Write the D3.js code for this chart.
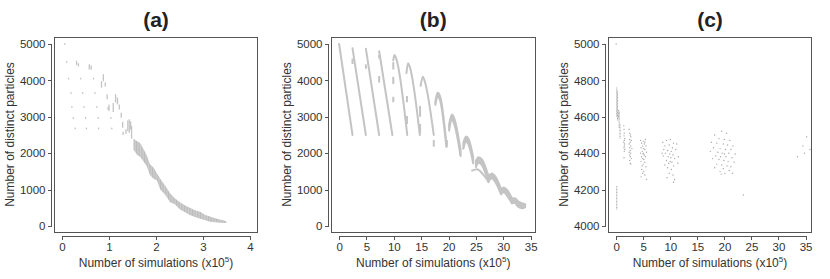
<!DOCTYPE html>
<meta charset="utf-8">
<style>
body { margin: 0; background: #fff; }
svg { display: block; font-family: "Liberation Sans", Arial, Helvetica, sans-serif; }
.axis text { font-size: 11.5px; fill: #333; }
.axis line, .axis .rline { stroke: #555; shape-rendering: crispEdges; }
.frame { fill: none; stroke: #555; shape-rendering: crispEdges; }
.title { font-size: 21px; font-weight: bold; fill: #222; text-anchor: middle; }
.label { font-size: 12px; fill: #333; text-anchor: middle; }
</style>
<svg width="830" height="279"></svg>
<script src="https://cdn.jsdelivr.net/npm/d3@7"></script>
<script>

var titles = ["(a)", "(b)", "(c)"];
var xTicksA = [0, 1, 2, 3, 4],
    xTicksBC = [0, 5, 10, 15, 20, 25, 30, 35],
    yTicksAB = [0, 1000, 2000, 3000, 4000, 5000],
    yTicksC = [4000, 4200, 4400, 4600, 4800, 5000];

// (a) isolated points [x, y]
var aDots = [[0.06,5000],[0.10,4510],[0.14,4050],[0.40,4050],[0.67,4050],
  [0.19,3650],[0.44,3650],[0.70,3650],[0.21,3270],[0.47,3270],[0.74,3270],
  [0.24,2970],[0.50,2970],[0.77,2970],[1.04,2970],[0.28,2680],[0.52,2680],
  [0.78,2680],[1.06,2680]];
// (a) short vertical runs [x, low, high]
var aDashes = [[0.31,4420,4540],[0.35,4380,4470],[0.58,4300,4440],[0.62,4290,4410],
  [0.84,3800,3980],[0.88,3980,4170],[0.92,3830,3940],[0.96,3480,3620],
  [0.98,3190,3270],[1.00,3160,3340],[1.09,3130,3380],[1.14,3390,3620],
  [1.18,3340,3530],[1.22,3200,3340],[1.26,2975,3110],[1.29,2700,2860],
  [1.30,2500,2590],[1.36,2530,2660],[1.40,2600,2900],[1.43,2560,2930],
  [1.46,2650,2880],[1.48,2400,2750]];
// (a) dense band [x, low, high]
var aBand = [[1.52,2100,2400],[1.60,1950,2330],[1.66,1900,2280],[1.72,1800,2150],
  [1.80,1650,1950],[1.87,1400,1700],[1.95,1300,1600],[2.02,1250,1450],
  [2.09,1000,1300],[2.20,850,1100],[2.30,650,900],[2.40,600,760],
  [2.51,450,650],[2.62,380,560],[2.72,300,500],[2.83,250,430],
  [2.94,200,390],[3.05,160,300],[3.15,120,260],[3.26,100,210],
  [3.36,90,180],[3.45,80,150],[3.50,80,120]];

// (b) trajectories [x, low, high]
var bSegs = [
  [[0,5000,5000],[2.45,2500,2500]],
  [[2.45,4880,4880],[4.89,2500,2500]],
  [[4.89,4870,4870],[7.32,2500,2500]],
  [[7.32,4800,4800],[9.74,2500,2500]],
  [[9.9,4550,4550],[10.1,4700,4700],[10.4,4620,4620],[12.45,2500,2500]],
  [[12.3,4200,4200],[12.6,4470,4470],[12.9,4380,4380],[14.75,2500,2500]],
  [[14.9,3850,3850],[15.3,4100,4100],[15.7,3950,3950],[17.3,2500,2500]],
  [[17.6,3330,3430],[18.0,3560,3660],[18.5,3430,3540],[19.6,2170,2270]],
  [[20.1,2620,2780],[20.6,2920,3060],[21.1,2770,2930],[22.2,1920,2090]],
  [[22.7,2120,2280],[23.2,2320,2460],[23.7,2220,2380],[24.5,1720,1900]],
  [[25.0,1620,1790],[25.5,1740,1890],[26.1,1670,1830],[27.3,1200,1370]],
  [[27.4,1250,1380],[27.9,1310,1440],[28.5,1220,1370],[29.6,870,1020]],
  [[29.7,890,1020],[30.1,930,1060],[30.7,830,990],[31.6,620,760]],
  [[31.6,630,750],[32.1,630,760],[32.7,530,680],[33.5,490,620],[34.0,520,600]],
  [[24.3,1520,1520],[25.2,1560,1560],[26.3,1420,1420],[27.3,1220,1220]]
];
var bDashes = [[2.45,4450,4600],[4.89,4320,4440],[7.32,4600,4700],[7.32,3940,4120],
  [9.9,4300,4500],[9.9,3900,4100],[9.9,3400,3550],[12.4,3400,3570],[12.4,2800,3020],
  [14.8,3000,3300],[14.8,2550,2800],[17.3,2180,2360],[19.7,2180,2360],[22.1,1950,2150]];

// (c) dense columns [x, low, high] and single points [x, y]
var cCols = [[0.1,4090,4220],[0.1,4600,4760],[0.25,4580,4740],[0.45,4590,4640],
  [0.55,4540,4630],[0.7,4480,4560]];
var cPts = [[0,5000],
  [1.4,4550],[1.45,4530],[1.5,4510],[1.45,4495],[1.55,4480],[1.5,4470],[1.4,4460],
  [1.55,4450],[1.5,4440],[1.45,4430],[1.6,4420],[1.5,4410],[1.45,4375],
  [2.4,4530],[2.5,4510],[2.6,4500],[2.7,4490],[2.5,4475],[2.8,4470],[2.6,4460],
  [2.4,4450],[2.7,4440],[2.5,4430],[2.9,4425],[2.6,4415],[2.4,4405],[2.7,4400],
  [2.5,4390],[2.6,4380],[2.8,4370],[2.5,4360],[2.6,4345],[2.7,4340],
  [4.5,4470],[5.0,4465],[5.4,4475],[4.7,4455],[5.2,4450],[4.9,4440],[5.5,4440],
  [4.6,4430],[5.1,4425],[5.3,4420],[4.8,4410],[5.6,4405],[4.5,4400],[5.0,4395],
  [5.2,4390],[4.7,4380],[5.4,4380],[4.9,4370],[5.1,4365],[4.6,4355],[5.3,4350],
  [5.0,4340],[4.8,4330],[5.5,4325],[4.7,4310],[5.1,4300],[4.9,4290],[5.3,4280],
  [4.6,4270],[5.6,4255],[5.0,4400],[5.3,4460],
  [8.6,4460],[9.3,4470],[10.0,4475],[10.6,4455],[11.2,4450],[9.0,4440],[9.8,4445],
  [10.4,4430],[8.8,4420],[9.5,4415],[10.2,4410],[11.0,4420],[9.1,4400],[9.9,4395],
  [10.5,4390],[8.7,4385],[9.6,4380],[10.1,4375],[10.8,4370],[9.3,4360],[10.0,4355],
  [10.3,4350],[9.7,4345],[11.4,4345],[9.0,4335],[10.6,4330],[9.5,4320],[10.2,4310],
  [9.8,4290],[10.5,4280],[9.4,4265],[10.8,4255],[10.6,4240],[11.5,4380],[8.5,4400],
  [19.5,4520],[20.4,4510],[18.2,4500],[19.0,4480],[20.0,4475],[21.0,4470],[17.6,4460],
  [18.6,4455],[19.8,4450],[20.6,4445],[21.6,4440],[18.0,4430],[19.2,4425],[20.2,4420],
  [21.2,4420],[17.4,4410],[18.8,4405],[19.6,4400],[20.0,4395],[20.8,4400],[22.0,4395],
  [18.4,4385],[19.3,4380],[20.3,4380],[21.4,4375],[17.8,4370],[19.0,4365],[19.9,4360],
  [20.7,4355],[21.8,4350],[18.6,4340],[19.5,4335],[20.5,4330],[21.2,4325],[18.2,4320],
  [19.8,4315],[20.9,4305],[19.2,4300],[20.1,4290],[21.5,4290],[19.4,4285],
  [23.5,4170],
  [33.5,4380],[34.5,4440],[34.8,4400],[35.2,4490],[35.8,4420]];

var grey = "#c4c4c4";
var svg = d3.select("svg");

var defs = svg.append("defs");
var pat = defs.append("pattern")
    .attr("id", "vstripe")
    .attr("patternUnits", "userSpaceOnUse")
    .attr("width", 1.6).attr("height", 4);
pat.append("rect").attr("width", 1.6).attr("height", 4).attr("fill", "#d6d6d6");
pat.append("rect").attr("width", 1.0).attr("height", 4).attr("fill", "#bcbcbc");

var panels = [
  {left: 54.5, w: 203, xd: [-0.16, 4.16], yd: [-165, 5192], xt: xTicksA, yt: yTicksAB},
  {left: 331.5, w: 203.5, xd: [-1.39, 35.8], yd: [-165, 5192], xt: xTicksBC, yt: yTicksAB},
  {left: 608.5, w: 203, xd: [-1.42, 36.1], yd: [3967, 5038], xt: xTicksBC, yt: yTicksC}
];
var plotTop = 37, h = 195;

panels.forEach(function(p, i) {
  var g = svg.append("g").attr("transform", "translate(" + p.left + "," + plotTop + ")");
  var x = d3.scaleLinear().domain(p.xd).range([0, p.w]);
  var y = d3.scaleLinear().domain(p.yd).range([h, 0]);
  p.x = x; p.y = y; p.g = g;

  // y axis, R style: line only from first to last tick
  var ya = g.append("g").attr("class", "axis")
      .attr("transform", "translate(-3,0)")
      .call(d3.axisLeft(y).tickValues(p.yt).tickSize(4).tickPadding(2).tickFormat(d3.format("d")));
  ya.select(".domain").remove();
  ya.append("line").attr("class", "rline")
      .attr("y1", y(p.yt[0])).attr("y2", y(p.yt[p.yt.length - 1]));

  var xa = g.append("g").attr("class", "axis")
      .attr("transform", "translate(0," + (h + 4) + ")")
      .call(d3.axisBottom(x).tickValues(p.xt).tickSize(4).tickPadding(3).tickFormat(d3.format("d")));
  xa.select(".domain").remove();
  xa.append("line").attr("class", "rline")
      .attr("x1", x(p.xt[0])).attr("x2", x(p.xt[p.xt.length - 1]));

  g.append("rect").attr("class", "frame").attr("width", p.w).attr("height", h);

  g.append("text").attr("class", "title")
      .attr("x", p.w / 2).attr("y", -10).text(titles[i]);

  g.append("text").attr("class", "label")
      .attr("transform", "translate(-41," + (h / 2) + ") rotate(-90)")
      .text("Number of distinct particles");

  var xl = g.append("text").attr("class", "label")
      .attr("x", p.w / 2).attr("y", h + 35);
  xl.append("tspan").text("Number of simulations (x10");
  xl.append("tspan").attr("dy", -5).attr("font-size", "8px").text("5");
  xl.append("tspan").attr("dy", 5).text(")");
});

// (a)
(function() {
  var p = panels[0], g = p.g, x = p.x, y = p.y;
  g.append("path").datum(aBand)
      .attr("fill", "url(#vstripe)")
      .attr("d", d3.area()
        .x(function(d) { return x(d[0]); })
        .y0(function(d) { return y(d[1]); })
        .y1(function(d) { return y(d[2]); }));
  g.selectAll(".adash").data(aDashes).enter().append("line")
      .attr("stroke", grey).attr("stroke-width", 1.3)
      .attr("x1", function(d) { return x(d[0]); })
      .attr("x2", function(d) { return x(d[0]); })
      .attr("y1", function(d) { return y(d[1]); })
      .attr("y2", function(d) { return y(d[2]); });
  g.selectAll(".adot").data(aDots).enter().append("rect")
      .attr("fill", "#bbb")
      .attr("x", function(d) { return x(d[0]) - 0.6; })
      .attr("y", function(d) { return y(d[1]) - 0.8; })
      .attr("width", 1.2).attr("height", 1.6);
})();

// (b)
(function() {
  var p = panels[1], g = p.g, x = p.x, y = p.y;
  var area = d3.area()
      .curve(d3.curveMonotoneX)
      .x(function(d) { return x(d[0]); })
      .y0(function(d) { return y(d[1]); })
      .y1(function(d) { return y(d[2]); });
  g.selectAll(".bseg").data(bSegs).enter().append("path")
      .attr("fill", grey).attr("stroke", grey)
      .attr("stroke-width", 2).attr("stroke-linejoin", "round")
      .attr("d", area);
  g.selectAll(".bdash").data(bDashes).enter().append("line")
      .attr("stroke", grey).attr("stroke-width", 2)
      .attr("x1", function(d) { return x(d[0]); })
      .attr("x2", function(d) { return x(d[0]); })
      .attr("y1", function(d) { return y(d[1]); })
      .attr("y2", function(d) { return y(d[2]); });
})();

// (c)
(function() {
  var p = panels[2], g = p.g, x = p.x, y = p.y;
  g.selectAll(".ccol").data(cCols).enter().append("line")
      .attr("stroke", "#b0b0b0").attr("stroke-width", 1.1)
      .attr("stroke-dasharray", "1 0.5")
      .attr("x1", function(d) { return x(d[0]); })
      .attr("x2", function(d) { return x(d[0]); })
      .attr("y1", function(d) { return y(d[1]); })
      .attr("y2", function(d) { return y(d[2]); });
  g.selectAll(".cpt").data(cPts).enter().append("circle")
      .attr("fill", "#a8a8a8")
      .attr("r", 0.7)
      .attr("cx", function(d) { return x(d[0]); })
      .attr("cy", function(d) { return y(d[1]); });
})();

</script>
